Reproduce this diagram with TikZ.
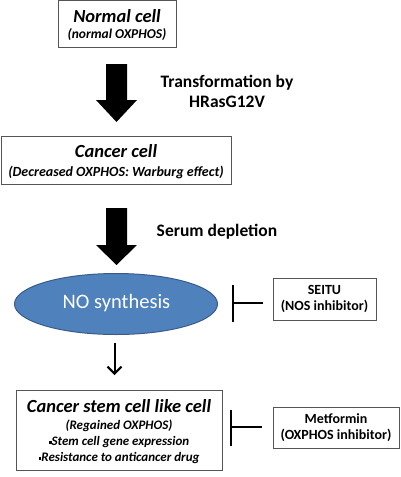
\documentclass[tikz,border=0pt]{standalone}
\usepackage{fontspec}
\setmainfont{Carlito}
\usetikzlibrary{arrows.meta,shapes.geometric}
\definecolor{boxline}{HTML}{555555}
\definecolor{ellfill}{HTML}{4F81BD}
\definecolor{elledge}{HTML}{385D8A}
\newcommand{\sqbul}{\raisebox{0.25ex}{\rule{0.22em}{0.22em}}}
\begin{document}
\begin{tikzpicture}[x=1pt,y=-1pt,
  cellbox/.style={draw=boxline,line width=0.9pt,fill=white,inner sep=0pt},
  smallbox/.style={draw=boxline,line width=0.8pt,fill=white,inner sep=0pt,align=center,font=\bfseries\fontsize{14}{15.5}\selectfont},
  lbl/.style={font=\bfseries\fontsize{17.5}{20}\selectfont,align=center},
  bigarrow/.style={fill=black},
  inhib/.style={line width=1.3pt,black}]
\useasboundingbox (0,0) rectangle (400,477);
% Normal cell
\node[cellbox,minimum width=118pt,minimum height=47pt] (normal) at (117,23.5) {};
\node[font=\bfseries\itshape\fontsize{18.5}{20}\selectfont] (n1) at (117,16) {Normal cell};
\node[font=\bfseries\itshape\fontsize{13.5}{15}\selectfont] (n2) at (117,35) {(normal OXPHOS)};
% Arrow 1
\fill[bigarrow] (106,64) -- (127,64) -- (127,100) -- (137,100) -- (116.5,122) -- (96,100) -- (106,100) -- cycle;
\node[lbl] (t1) at (227,91) {Transformation by\\HRasG12V};
% Cancer cell
\node[cellbox,minimum width=230pt,minimum height=48pt] (cancer) at (116,160) {};
\node[font=\bfseries\itshape\fontsize{18.5}{20}\selectfont] (c1) at (116,151) {Cancer cell};
\node[font=\bfseries\itshape\fontsize{14}{15}\selectfont] (c2) at (116,172) {(Decreased OXPHOS: Warburg effect)};
% Arrow 2
\fill[bigarrow] (106,208) -- (127,208) -- (127,245) -- (137,245) -- (116.5,265) -- (96,245) -- (106,245) -- cycle;
\node[lbl] (t2) at (217,232) {Serum depletion};
% NO synthesis
\node[ellipse,draw=elledge,line width=1pt,fill=ellfill,minimum width=203pt,minimum height=61pt,inner sep=0pt] (no) at (116,304) {};
\node[text=white,font=\fontsize{20.5}{22}\selectfont] (not) at (116.5,303) {NO synthesis};
% SEITU
\node[smallbox,minimum width=103pt,minimum height=42pt] (seitu) at (324.5,299) {SEITU\\(NOS inhibitor)};
\coordinate (i1a) at (233,285);
\coordinate (i1b) at (233,322);
\coordinate (i1c) at (233,303);
\coordinate (i1d) at (263,303);
\draw[inhib] (i1a) -- (i1b);
\draw[inhib] (i1d) -- (i1c);
% Arrow 3
\coordinate (a3s) at (114.5,343);
\coordinate (a3e) at (114.5,375);
\draw[line width=2pt,-{Straight Barb[length=7pt,width=14pt,line width=2pt]}] (a3s) -- (a3e);
% CSC box
\node[cellbox,minimum width=206pt,minimum height=80pt] (csc) at (119,430) {};
\node[font=\bfseries\itshape\fontsize{18.5}{20}\selectfont] (s1) at (119,406) {Cancer stem cell like cell};
\node[align=center,font=\bfseries\itshape\fontsize{13}{16}\selectfont] (s2) at (119,442) {(Regained OXPHOS)\\\sqbul Stem cell gene expression\\\sqbul Resistance to anticancer drug};
% Metformin
\node[smallbox,minimum width=126pt,minimum height=41pt] (met) at (336,427.5) {Metformin\\(OXPHOS inhibitor)};
\coordinate (i2a) at (231,410);
\coordinate (i2b) at (231,446);
\coordinate (i2c) at (231,427);
\coordinate (i2d) at (262,427);
\draw[inhib] (i2a) -- (i2b);
\draw[inhib] (i2d) -- (i2c);
\end{tikzpicture}
\end{document}
